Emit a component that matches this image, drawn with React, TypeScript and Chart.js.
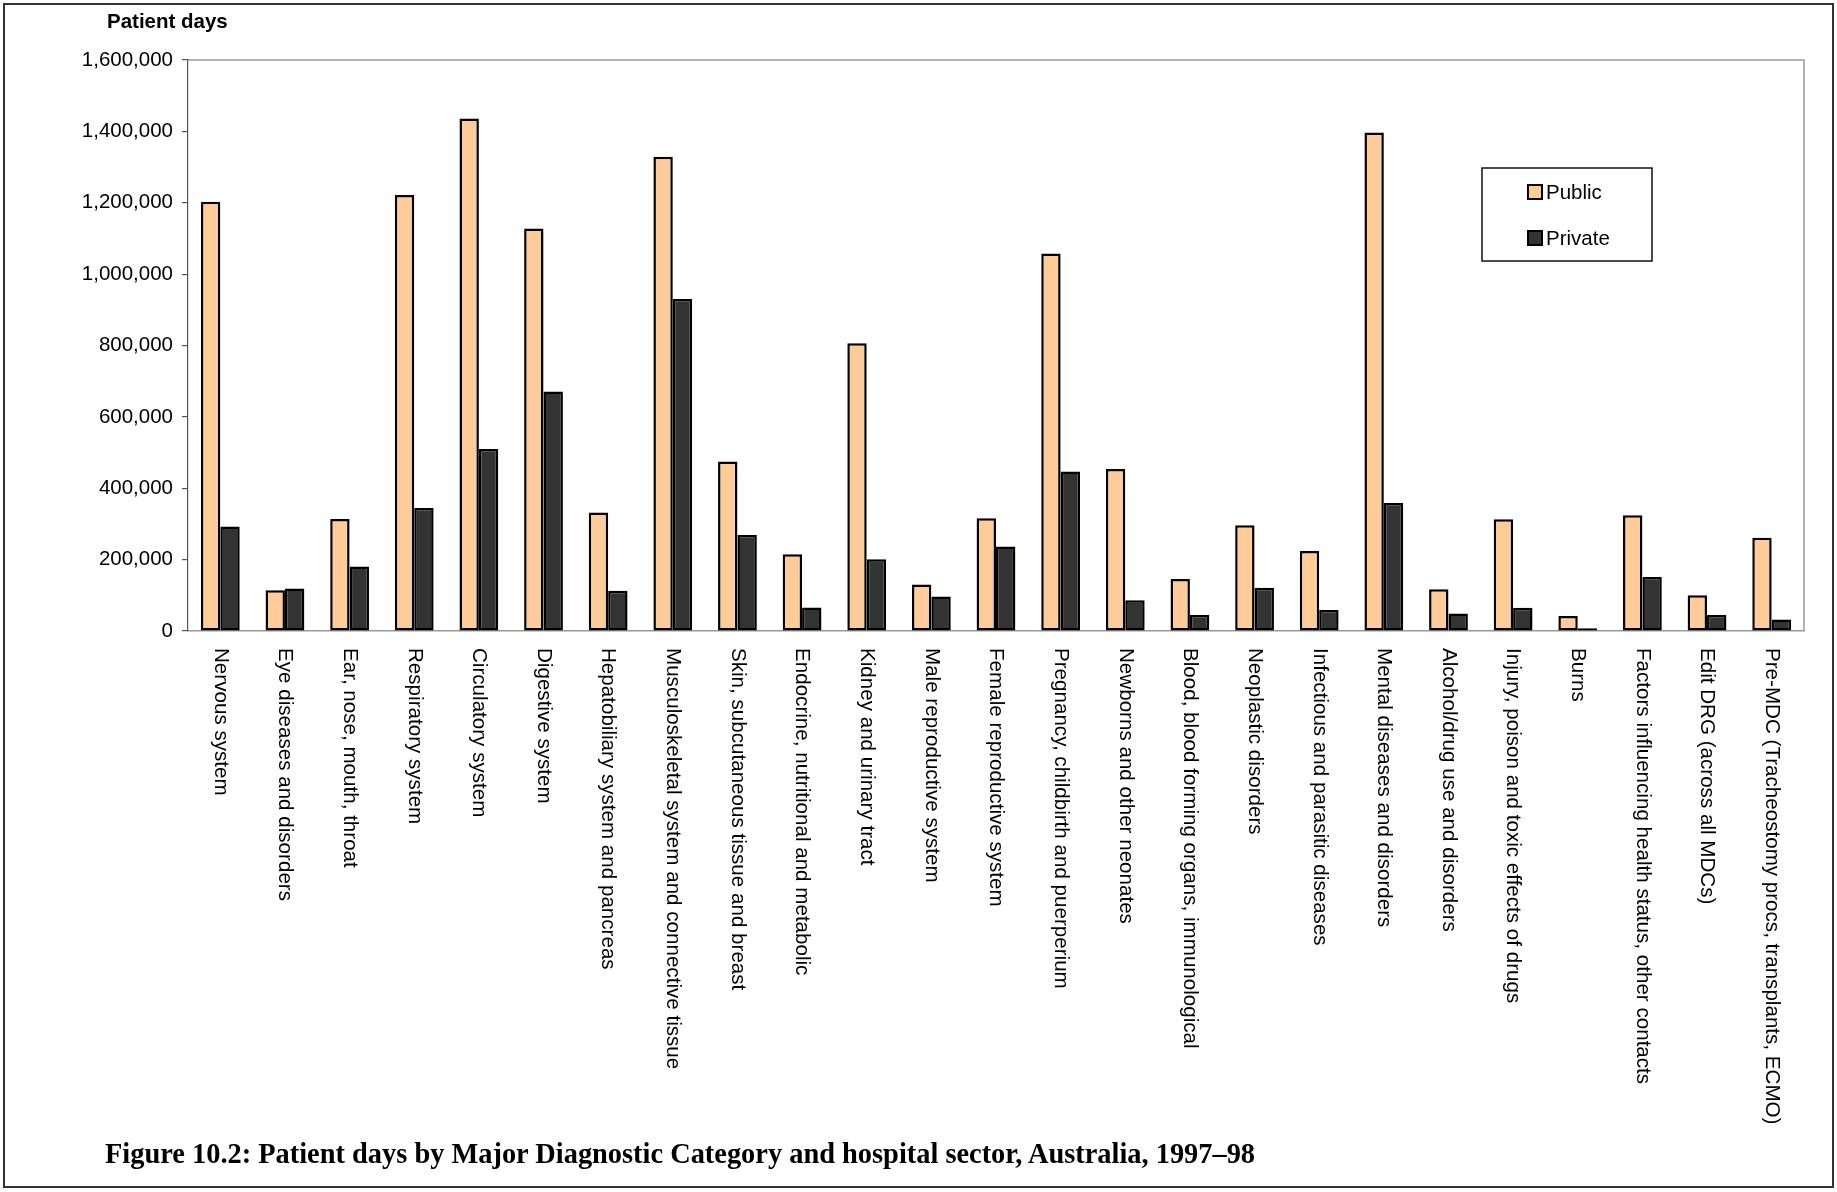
import React, { useEffect, useRef } from "react";
import { Chart, registerables } from "chart.js";

Chart.register(...registerables);

const categories = [
  "Nervous system",
  "Eye diseases and disorders",
  "Ear, nose, mouth, throat",
  "Respiratory system",
  "Circulatory system",
  "Digestive system",
  "Hepatobiliary system and pancreas",
  "Musculoskeletal system and connective tissue",
  "Skin, subcutaneous tissue and breast",
  "Endocrine, nutritional and metabolic",
  "Kidney and urinary tract",
  "Male reproductive system",
  "Female reproductive system",
  "Pregnancy, childbirth and puerperium",
  "Newborns and other neonates",
  "Blood, blood forming organs, immunological",
  "Neoplastic disorders",
  "Infectious and parasitic diseases",
  "Mental diseases and disorders",
  "Alcohol/drug use and disorders",
  "Injury, poison and toxic effects of drugs",
  "Burns",
  "Factors influencing health status, other contacts",
  "Edit DRG (across all MDCs)",
  "Pre-MDC (Tracheostomy procs, transplants, ECMO)",
];

const publicDays = [
  1203000, 114000, 314000, 1222000, 1436000, 1128000, 332000, 1329000, 475000,
  215000, 806000, 130000, 316000, 1058000, 454000, 146000, 296000, 224000,
  1397000, 117000, 313000, 42000, 324000, 100000, 261000,
];

const privateDays = [
  293000, 119000, 181000, 345000, 510000, 671000, 113000, 930000, 269000,
  66000, 201000, 97000, 237000, 447000, 86000, 45000, 121000, 59000, 359000,
  49000, 65000, 8000, 151000, 45000, 32000,
];

const seriesNames = ["Public", "Private"];
const seriesColors = ["#FFCC99", "#333333"];

const W = 1837;
const H = 1192;
const FONT = '"Liberation Sans", Arial, sans-serif';

const labelPlugin = {
  id: "rotLabels",
  afterDraw(chart: any) {
    const ctx = chart.ctx;
    const xs = chart.scales.x;
    const ca = chart.chartArea;
    ctx.save();
    ctx.font = `20.6px ${FONT}`;
    ctx.fillStyle = "#000";
    ctx.textAlign = "left";
    ctx.textBaseline = "middle";
    categories.forEach((c, i) => {
      const x = xs.getPixelForValue(i);
      ctx.save();
      ctx.translate(x, ca.bottom + 17);
      ctx.rotate(Math.PI / 2);
      ctx.fillText(c, 0, 0);
      ctx.restore();
    });
    ctx.restore();
  },
};

const framePlugin = {
  id: "plotFrame",
  beforeDatasetsDraw(chart: any) {
    const ctx = chart.ctx;
    const ca = chart.chartArea;
    ctx.save();
    ctx.strokeStyle = "#999";
    ctx.lineWidth = 1.5;
    ctx.beginPath();
    ctx.moveTo(ca.left, ca.top);
    ctx.lineTo(ca.right, ca.top);
    ctx.lineTo(ca.right, ca.bottom);
    ctx.stroke();
    ctx.restore();
  },
};

const legendPlugin = {
  id: "boxLegend",
  afterDraw(chart: any) {
    const ctx = chart.ctx;
    const bx = 1482;
    const by = 168;
    const bw = 170;
    const bh = 93;
    ctx.save();
    ctx.fillStyle = "#fff";
    ctx.fillRect(bx, by, bw, bh);
    ctx.strokeStyle = "#111";
    ctx.lineWidth = 1.5;
    ctx.strokeRect(bx, by, bw, bh);
    ctx.font = `20.5px ${FONT}`;
    ctx.textAlign = "left";
    ctx.textBaseline = "middle";
    chart.data.datasets.forEach((ds: any, i: number) => {
      const cy = by + 24 + i * 46;
      ctx.fillStyle = ds.backgroundColor;
      ctx.fillRect(bx + 46, cy - 7, 14, 14);
      ctx.strokeStyle = "#000";
      ctx.lineWidth = 2;
      ctx.strokeRect(bx + 46, cy - 7, 14, 14);
      ctx.fillStyle = "#000";
      ctx.fillText(ds.label, bx + 64, cy + 1);
    });
    ctx.restore();
  },
};

export default function App() {
  const ref = useRef<HTMLCanvasElement | null>(null);

  useEffect(() => {
    document.body.style.margin = "0";
    const canvas = ref.current;
    if (!canvas) return;
    const chart = new Chart(canvas, {
      type: "bar",
      data: {
        labels: categories,
        datasets: [
          {
            label: seriesNames[0],
            data: publicDays,
            backgroundColor: seriesColors[0],
            borderColor: "#000",
            borderWidth: 2.5,
            borderSkipped: false,
            categoryPercentage: 0.6,
            barPercentage: 1.0,
          },
          {
            label: seriesNames[1],
            data: privateDays,
            backgroundColor: seriesColors[1],
            borderColor: "#000",
            borderWidth: 2.5,
            borderSkipped: false,
            categoryPercentage: 0.6,
            barPercentage: 1.0,
          },
        ],
      },
      options: {
        responsive: false,
        animation: false,
        devicePixelRatio: 1,
        layout: { padding: { left: 0, top: 60, right: W - 1804, bottom: 0 } },
        plugins: {
          legend: { display: false },
          tooltip: { enabled: false },
          title: { display: false },
        },
        scales: {
          x: {
            grid: { display: false },
            border: { display: true, color: "#999", width: 1.5 },
            ticks: { display: false },
            afterFit: (s: any) => {
              s.height = H - 631;
            },
          },
          y: {
            min: 0,
            max: 1600000,
            grid: {
              drawOnChartArea: false,
              drawTicks: true,
              tickLength: 6,
              color: "#555",
              lineWidth: 1.2,
            },
            border: { display: true, color: "#555", width: 1.2 },
            ticks: {
              stepSize: 200000,
              color: "#000",
              padding: 9,
              font: { family: FONT, size: 20.5 },
              callback: (v: any) => Number(v).toLocaleString("en-US"),
            },
            afterFit: (s: any) => {
              s.width = 188;
            },
          },
        },
      },
      plugins: [framePlugin, labelPlugin, legendPlugin],
    });
    return () => chart.destroy();
  }, []);

  return (
    <div style={{ position: "absolute", left: 0, top: 0, width: W, height: H, background: "#fff" }}>
      <canvas ref={ref} width={W} height={H} style={{ position: "absolute", left: 0, top: 0 }} />
      <div
        style={{
          position: "absolute",
          left: 3,
          top: 3,
          width: 1831,
          height: 1185,
          border: "2px solid #333",
          boxSizing: "border-box",
          pointerEvents: "none",
        }}
      />
      <div
        style={{
          position: "absolute",
          left: 107,
          top: 8,
          fontFamily: FONT,
          fontWeight: "bold",
          fontSize: 20.5,
          lineHeight: "26px",
          color: "#000",
        }}
      >
        Patient days
      </div>
      <div
        style={{
          position: "absolute",
          left: 105,
          top: 1136,
          fontFamily: '"Liberation Serif", "Times New Roman", serif',
          fontWeight: "bold",
          fontSize: 28.4,
          lineHeight: "36px",
          color: "#000",
          whiteSpace: "nowrap",
        }}
      >
        Figure 10.2: Patient days by Major Diagnostic Category and hospital sector, Australia, 1997–98
      </div>
    </div>
  );
}
